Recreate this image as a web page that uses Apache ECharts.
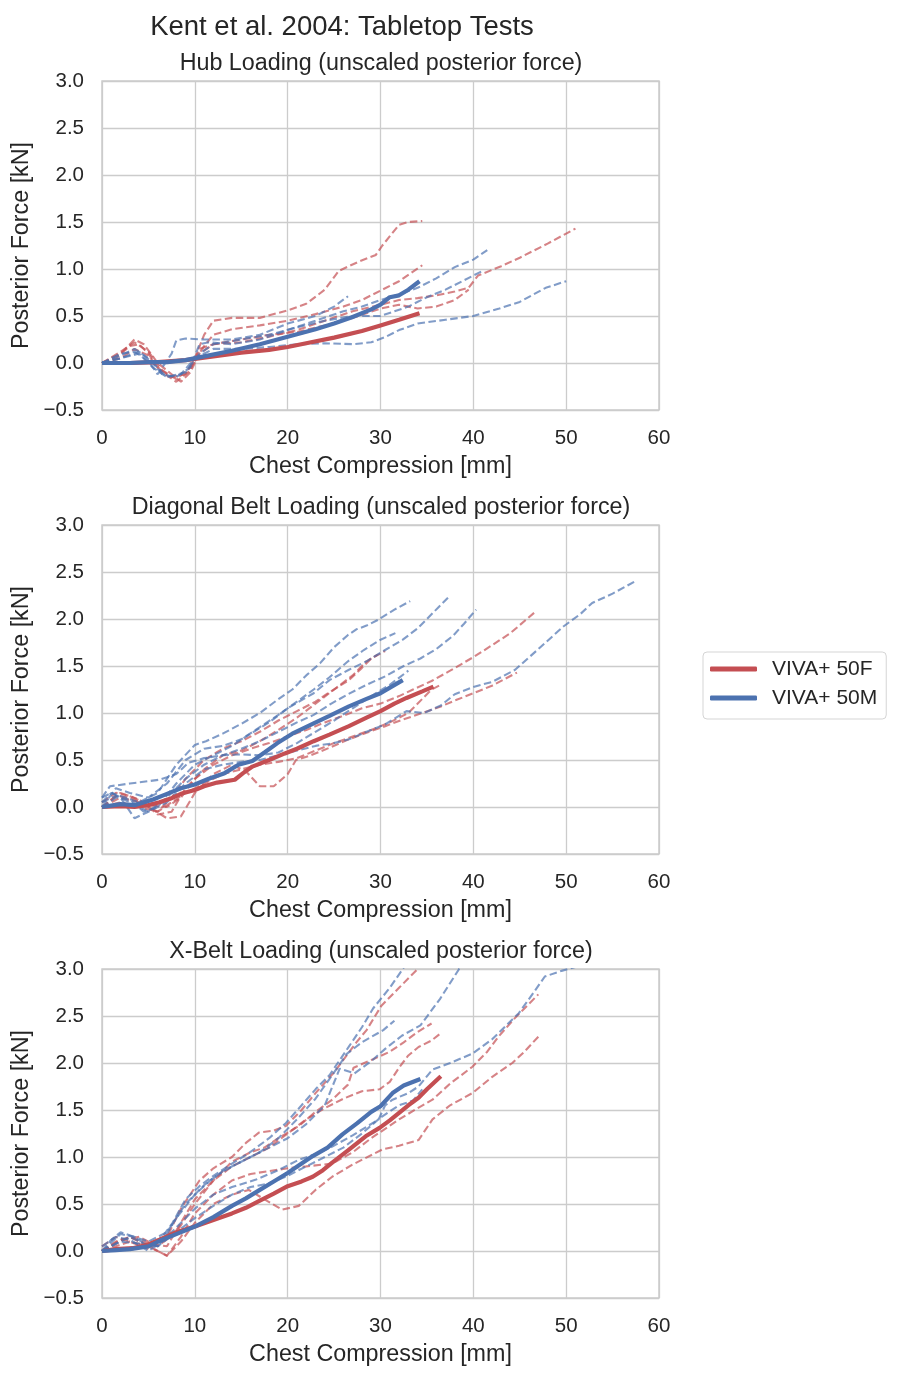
<!DOCTYPE html>
<html><head><meta charset="utf-8">
<script src="https://cdn.jsdelivr.net/npm/echarts@6/dist/echarts.min.js"></script>
<style>html,body{margin:0;padding:0;background:#fff}#c{width:901px;height:1378px}</style>
</head><body><div id="c"></div><script>
// ---------- data ----------
const panelTitles = ['Hub Loading (unscaled posterior force)', 'Diagonal Belt Loading (unscaled posterior force)', 'X-Belt Loading (unscaled posterior force)'];
const mainTitle = 'Kent et al. 2004: Tabletop Tests';
const xTicks = [0, 10, 20, 30, 40, 50, 60];
const yTicks = [-0.5, 0.0, 0.5, 1.0, 1.5, 2.0, 2.5, 3.0];

// Hub loading
const hubF = [[0,0],[3,0],[6,0.01],[9,0.03],[12,0.07],[15,0.11],[18,0.14],[20,0.17],[22,0.21],[25,0.27],[28,0.34],[30,0.4],[32,0.46],[34.2,0.53]];
const hubM = [[0,0],[3,0],[5,0.01],[7,0.01],[9,0.03],[11,0.07],[14,0.13],[17,0.2],[20,0.28],[23,0.36],[25,0.42],[27,0.49],[29,0.57],[30,0.62],[31,0.7],[32,0.72],[33,0.78],[34.2,0.87]];
const hubTestsF = [
  [[0,0],[1.5,0.05],[3,0.18],[4,0.2],[5,0.1],[6,-0.05],[7.5,-0.15],[9,-0.12],[10,0.05],[11,0.3],[12,0.45],[14,0.48],[17,0.48],[20,0.56],[22,0.63],[24,0.78],[25.5,0.98],[27.7,1.08],[29.5,1.15],[30.2,1.25],[32,1.47],[33,1.5],[34.5,1.51]],
  [[0,0],[2,0.1],[3.5,0.25],[4.5,0.2],[6,0],[7.5,-0.12],[8.5,-0.2],[9.5,-0.1],[10.5,0.1],[12,0.2],[15,0.22],[18,0.28],[21,0.35],[24,0.45],[27,0.55],[30,0.62],[32,0.67],[34,0.69],[36,0.72],[38,0.76],[39.5,0.8],[40.5,0.93],[43,1.03],[45,1.12],[48,1.27],[51,1.43]],
  [[0,0],[2,0.12],[3.5,0.22],[5,0.12],[6.5,-0.08],[8,-0.17],[9.5,-0.05],[11,0.18],[12,0.3],[14,0.36],[17,0.4],[20,0.45],[23,0.52],[26,0.6],[28,0.67],[30,0.77],[32,0.87],[34.5,1.04]],
  [[0,0],[2,0.05],[3.5,0.15],[5,0.08],[6.5,-0.1],[8,-0.2],[9.5,-0.08],[10.5,0.15],[12,0.2],[15,0.25],[18,0.3],[21,0.33],[24,0.4],[27,0.48],[30,0.58],[32,0.62],[34,0.58],[36,0.6],[38,0.67],[39.5,0.78]]
];
const hubTestsM = [
  [[0,0],[2,0.08],[3.5,0.15],[5,0.05],[6.5,-0.12],[8,-0.15],[9.5,-0.05],[10.5,0.2],[11.5,0.22],[14,0.2],[17,0.25],[20,0.35],[23,0.45],[26,0.55],[28,0.6],[30,0.67],[32,0.73],[34,0.8],[36,0.9],[38,1.02],[40,1.1],[41.5,1.2]],
  [[0,0],[2,0.05],[4,0.12],[5.5,0],[7,-0.15],[8.5,-0.12],[10,0.05],[12,0.15],[15,0.15],[18,0.17],[21,0.2],[24,0.21],[27,0.2],[29,0.22],[30.6,0.28],[32,0.35],[34,0.42],[37,0.46],[40,0.5],[42.8,0.58],[45,0.65],[47.8,0.8],[50,0.87]],
  [[0,0],[2,0.1],[3.5,0.12],[5,0.02],[6,-0.12],[7.5,0.1],[8,0.24],[9,0.26],[11,0.25],[14,0.25],[17,0.3],[20,0.42],[23,0.5],[25,0.6],[26.5,0.71]],
  [[0,0],[2,0.05],[4,0.1],[5.5,-0.05],[7,-0.15],[9,-0.1],[10.5,0.1],[12,0.2],[15,0.25],[18,0.3],[21,0.38],[24,0.45],[27,0.5],[30,0.5],[33,0.6],[35,0.7],[37,0.78],[39,0.88],[41,0.98]]
];

// Diagonal belt loading
const diagF = [[0,0],[2,0.01],[3.5,0.0],[5,0.02],[6.2,0.05],[7.4,0.09],[8.5,0.14],[10,0.18],[11,0.22],[12.4,0.26],[14.3,0.29],[15.2,0.36],[16.2,0.43],[18,0.5],[19.7,0.57],[21,0.62],[22.8,0.7],[24.5,0.77],[26.6,0.86],[28.5,0.95],[30,1.02],[31.5,1.1],[32.8,1.16],[34.5,1.23],[35.7,1.28]];
const diagM = [[0,0],[2,0.03],[3.5,0.02],[5.5,0.08],[7,0.14],[8.5,0.2],[10,0.24],[11.5,0.3],[13.2,0.36],[14.7,0.45],[16.2,0.49],[17.5,0.58],[18.9,0.68],[20.5,0.78],[22.8,0.89],[24.5,0.97],[26.6,1.07],[28.5,1.15],[30,1.21],[31.2,1.28],[32.4,1.35]];
const diagTestsF = [
  [[0,0.05],[1.5,0.15],[3,0.12],[5,0.02],[7,0.0],[8.5,0.1],[10,0.3],[12,0.45],[14,0.55],[16,0.62],[18,0.68],[20,0.75],[22,0.82],[24,0.9],[26,0.97],[28,1.05],[30,1.1],[32,1.18],[33.5,1.25],[35.5,1.34],[37.5,1.45],[40.1,1.6],[42,1.72],[44,1.85],[46.6,2.07]],
  [[0,0],[1.5,0.12],[3,0.1],[5,0.0],[7,-0.12],[8.5,-0.1],[10,0.15],[12,0.35],[14,0.45],[15.5,0.38],[17,0.22],[18.5,0.22],[20,0.35],[20.9,0.5],[22.5,0.55],[24.5,0.63],[26.6,0.72],[28.5,0.79],[30.5,0.86],[32.4,0.93],[34.5,1.0],[36.5,1.07],[38.2,1.14],[40,1.21],[42,1.29],[44.7,1.43]],
  [[0,0],[2,0.1],[4,0.05],[6,-0.05],[7.5,0.1],[9,0.3],[11,0.5],[13,0.62],[15,0.7],[17,0.8],[19,0.92],[21,1.02],[23,1.12],[24.5,1.22],[26.6,1.35],[28,1.48],[29,1.58],[30.5,1.66]],
  [[0,0],[2,0.15],[4,0.08],[6,-0.08],[7.5,-0.05],[9,0.2],[11,0.4],[13,0.55],[15,0.6],[17,0.7],[19,0.82],[21,0.95],[23,1.1],[25,1.25],[27,1.4],[28.5,1.55],[29.7,1.62]],
  [[0,0],[2,0.05],[4,0.0],[6,-0.05],[7.5,0.05],[9,0.15],[11,0.25],[13,0.35],[15,0.4],[17,0.45],[19,0.48],[21,0.52],[23,0.6],[25,0.68],[27,0.75],[29,0.82],[31,0.9],[33,1.0],[34.5,1.15],[35.5,1.25],[36.5,1.3]]
];
const diagTestsM = [
  [[0,0.1],[1,0.15],[2,0.1],[3.5,-0.12],[5,-0.05],[7,0.05],[9,0.25],[11,0.4],[13,0.45],[15,0.48],[17,0.5],[19,0.55],[21,0.6],[23,0.65],[25,0.68],[26.6,0.72],[28.5,0.8],[30.5,0.88],[32.8,1.02],[34.7,1.0],[36.5,1.08],[38,1.2],[40.1,1.28],[42,1.33],[44.5,1.46],[47,1.68],[49.7,1.92],[51.5,2.05],[52.8,2.17],[55,2.27],[57.6,2.41]],
  [[0,0.05],[1.5,0.12],[3,0.05],[5,-0.05],[7,0.1],[9,0.3],[11,0.45],[13,0.55],[15,0.62],[17,0.7],[19,0.8],[21,0.9],[22.8,0.98],[24.7,1.1],[26.5,1.2],[28.5,1.3],[30.5,1.39],[32.5,1.5],[34.3,1.58],[36,1.68],[37.8,1.82],[39,1.95],[40.3,2.1]],
  [[0,0],[1.5,0.1],[3,0.08],[4.5,-0.05],[6,0],[8,0.25],[10,0.45],[12,0.55],[14,0.65],[16,0.78],[18,0.9],[20,1.05],[22.8,1.21],[24.5,1.35],[26.6,1.46],[28.5,1.55],[30.5,1.67],[32.4,1.78],[34,1.9],[35.8,2.08],[37.4,2.24]],
  [[0,0.05],[1,0.15],[2.5,0.1],[4,0.05],[6,0.15],[8,0.45],[10,0.66],[11.2,0.7],[13,0.78],[15.1,0.89],[17,1.0],[18.9,1.14],[20.5,1.25],[22,1.4],[23.5,1.53],[25,1.7],[26.5,1.83],[27.4,1.89],[28.5,1.93],[29.7,1.99],[31.5,2.1],[33.2,2.19]],
  [[0,0],[1.5,0.2],[3,0.15],[5,0.1],[7,0.25],[9,0.5],[11,0.62],[13,0.65],[15,0.72],[17,0.85],[19,0.98],[21,1.12],[22.8,1.25],[24.5,1.38],[26.5,1.55],[28.2,1.67],[30,1.78],[31.6,1.85]],
  [[0,0.1],[0.85,0.22],[3,0.25],[6.2,0.29],[8,0.35],[9.3,0.47],[11,0.52],[13,0.55],[15,0.56],[17,0.55],[19,0.58],[21,0.68],[23,0.8],[25,0.92],[27,1.05],[29,1.18],[31,1.3],[33,1.45]]
];

// X-belt loading
const xbeltF = [[0,0],[1.5,0.02],[3.3,0.03],[5,0.07],[6.2,0.12],[8,0.2],[10,0.26],[12,0.33],[14,0.4],[15.5,0.46],[16.9,0.53],[18.5,0.61],[20,0.69],[21.5,0.74],[22.7,0.79],[23.8,0.86],[24.8,0.94],[26.5,1.07],[28.4,1.22],[29.9,1.31],[31,1.39],[32,1.47],[33,1.55],[34.1,1.63],[35,1.72],[36.5,1.86]];
const xbeltM = [[0,0],[1.5,0.01],[3,0.02],[5,0.05],[6.5,0.12],[8,0.18],[10,0.26],[12,0.36],[14,0.48],[15.5,0.56],[17,0.65],[18.5,0.74],[20,0.83],[21.5,0.93],[22.7,1.01],[24.3,1.1],[25.9,1.24],[27.5,1.36],[29,1.48],[30,1.54],[31.3,1.68],[32.5,1.76],[34.3,1.83]];
const xbeltTestsF = [
  [[0,0.05],[1.5,0.15],[3,0.1],[5,0.02],[7,0.15],[8.5,0.45],[10.5,0.75],[12,0.88],[14,1.0],[15.5,1.15],[16.9,1.26],[18.5,1.28],[19.8,1.33],[21.5,1.5],[23,1.68],[25,1.9],[27.4,2.22],[28.5,2.35],[30.1,2.61],[32,2.8],[33.9,2.99],[34.5,3.1]],
  [[0,0],[1.5,0.1],[3,0.15],[5,0.08],[7,0.05],[8.5,0.3],[10,0.55],[12,0.75],[14,0.9],[16,1.0],[18,1.1],[20,1.25],[22,1.4],[24,1.52],[26,1.62],[28,1.7],[29.9,1.72],[31,1.8],[32,1.95],[33,2.08],[34.1,2.17],[35.5,2.24],[36.4,2.31]],
  [[0,0],[1.5,0.05],[3,0.1],[5,0.05],[7,-0.05],[8.5,0.15],[10,0.4],[12,0.6],[14,0.75],[16,0.82],[18,0.85],[20,0.88],[22,0.9],[24.8,0.93],[27,1.05],[29,1.2],[30.5,1.3],[32,1.4],[34,1.52],[35.6,1.61],[37.5,1.78],[39.9,1.96],[41.5,2.12],[42.7,2.28],[44.5,2.48],[47,2.73]],
  [[0,0],[1.5,0.08],[3,0.15],[5,0.05],[7,-0.05],[8.5,0.1],[10,0.3],[12,0.5],[14,0.6],[15.8,0.65],[17.5,0.55],[19.4,0.44],[21.2,0.48],[23,0.65],[24.8,0.79],[27,0.92],[30.2,1.08],[32,1.12],[34.1,1.18],[35.6,1.4],[37.5,1.55],[39.9,1.68],[42,1.85],[44.2,2.0],[45.5,2.12],[47,2.28]],
  [[0,0],[2,0.12],[4,0.15],[6,0.05],[8,0.2],[10,0.5],[12,0.75],[14,0.95],[16,1.05],[17.5,1.1],[19,1.2],[21.2,1.33],[23,1.48],[24.8,1.61],[26.5,1.77],[27.1,1.95],[29.2,2.04],[31,2.12],[32.5,2.22],[34,2.33],[35.5,2.42]]
];
const xbeltTestsM = [
  [[0,0],[1,0.12],[2,0.2],[3.5,0.15],[5,0.05],[6.5,0.15],[7.6,0.3],[9,0.55],[10.5,0.69],[12,0.8],[14,0.93],[15.8,1.04],[18,1.2],[19.8,1.36],[21.5,1.55],[23,1.72],[24.5,1.87],[26.7,2.19],[28,2.38],[29.2,2.58],[31,2.8],[32.4,3.0],[33,3.1]],
  [[0,0.05],[1.5,0.15],[3,0.12],[5,0.0],[6.5,0.1],[8,0.35],[10,0.6],[12,0.78],[14,0.9],[16,1.0],[18,1.1],[20,1.2],[22,1.35],[24,1.55],[25.6,1.94],[27.2,1.89],[29,2.02],[30.5,2.15],[32.3,2.29],[34.3,2.4],[36.4,2.68],[38.4,2.99],[39,3.1]],
  [[0,0],[1.5,0.08],[3,0.15],[4.5,0.08],[6,0.05],[8,0.25],[10,0.45],[12,0.6],[14,0.68],[16.6,0.76],[19,0.86],[21.2,0.97],[23,1.03],[24.8,1.11],[27,1.23],[29.8,1.4],[30.5,1.55],[31.3,1.61],[33,1.68],[34.1,1.75],[35.6,1.93],[37.5,2.0],[39.9,2.1],[42,2.25],[44.9,2.53],[46.5,2.75],[47.7,2.92],[49.5,2.98],[51.3,3.03]],
  [[0,0],[2,0.18],[3.5,0.15],[5,0.1],[7,0.2],[9,0.5],[11,0.7],[13,0.85],[15,0.95],[17,1.05],[19,1.2],[21,1.4],[23,1.62],[25,1.9],[26.4,2.1],[28,2.22],[30.3,2.35],[31.5,2.45]],
  [[0,0],[2,0.1],[4,0.08],[6,0.05],[8,0.2],[10,0.35],[12,0.48],[14,0.6],[16,0.68],[18,0.72],[20,0.8],[22,0.9],[24,1.0],[26,1.1],[28,1.25],[30,1.42],[32,1.55],[33.5,1.6],[34.5,1.72]]
];

const legendNames = ['VIVA+ 50F', 'VIVA+ 50M'];
// ---------- chart ----------
const RED = '#C44E52', BLUE = '#4C72B0', TXT = '#262626', GRIDC = '#cccccc';
const FONT = '"Liberation Sans", Arial, sans-serif';
const TICK = 20.5, LAB = 23.3;
const panels = [
  {F: hubF, M: hubM, tF: hubTestsF, tM: hubTestsM},
  {F: diagF, M: diagM, tF: diagTestsF, tM: diagTestsM},
  {F: xbeltF, M: xbeltM, tF: xbeltTestsF, tM: xbeltTestsM}
];
const tops = [81, 525, 969];
const grids = [], xAxes = [], yAxes = [], series = [], graphics = [];
const fmtY = v => (v < 0 ? '\u2212' : '') + Math.abs(v).toFixed(1);
panels.forEach((p, i) => {
  grids.push({left: 102, top: tops[i], width: 557, height: 329, show: true, borderColor: GRIDC, borderWidth: 1.5, backgroundColor: 'transparent'});
  xAxes.push({type: 'value', gridIndex: i, min: xTicks[0], max: xTicks[xTicks.length-1], interval: 10,
    name: 'Chest Compression [mm]', nameLocation: 'middle', nameGap: 45,
    nameTextStyle: {fontSize: LAB, color: TXT, fontFamily: FONT},
    axisLine: {show: false}, axisTick: {show: false},
    axisLabel: {fontSize: TICK, color: TXT, fontFamily: FONT, margin: 18},
    splitLine: {show: true, lineStyle: {color: GRIDC, width: 1.3}}});
  yAxes.push({type: 'value', gridIndex: i, min: yTicks[0], max: yTicks[yTicks.length-1], interval: 0.5,
    name: 'Posterior Force [kN]', nameLocation: 'middle', nameGap: 67,
    nameTextStyle: {fontSize: LAB, color: TXT, fontFamily: FONT},
    axisLine: {show: false}, axisTick: {show: false},
    axisLabel: {fontSize: TICK, color: TXT, fontFamily: FONT, margin: 18, formatter: fmtY},
    splitLine: {show: true, lineStyle: {color: GRIDC, width: 1.3}}});
  const dash = (d, c) => ({type: 'line', name: 'test', xAxisIndex: i, yAxisIndex: i, data: d, symbol: 'none', silent: true,
    lineStyle: {color: c, width: 2.1, type: [7.5, 3.5], opacity: 0.7}, itemStyle: {color: c}, z: 2, animation: false});
  p.tF.forEach(d => series.push(dash(d, RED)));
  p.tM.forEach(d => series.push(dash(d, BLUE)));
  series.push({type: 'line', name: legendNames[0], xAxisIndex: i, yAxisIndex: i, data: p.F, symbol: 'none',
    lineStyle: {color: RED, width: 4.2}, itemStyle: {color: RED}, z: 3, animation: false});
  series.push({type: 'line', name: legendNames[1], xAxisIndex: i, yAxisIndex: i, data: p.M, symbol: 'none',
    lineStyle: {color: BLUE, width: 4.2}, itemStyle: {color: BLUE}, z: 3, animation: false});
  graphics.push({type: 'text', x: 381, y: tops[i] - 17, style: {text: panelTitles[i], font: LAB + 'px ' + FONT, fill: TXT, textAlign: 'center', textVerticalAlign: 'middle'}});
});
graphics.push({type: 'text', x: 342, y: 27, style: {text: mainTitle, font: '27.5px ' + FONT, fill: TXT, textAlign: 'center', textVerticalAlign: 'middle'}});

const chart = echarts.init(document.getElementById('c'), null, {renderer: 'canvas'});
chart.setOption({
  backgroundColor: '#ffffff',
  animation: false,
  grid: grids, xAxis: xAxes, yAxis: yAxes, series: series, graphic: graphics,
  legend: {data: legendNames, orient: 'vertical', left: 703, top: 652, itemWidth: 47, itemHeight: 5, itemGap: 7,
    icon: 'roundRect', borderColor: '#d5d5d5', borderWidth: 1, borderRadius: 4, padding: [6, 9, 10, 7],
    textStyle: {fontSize: 21, lineHeight: 22, color: TXT, fontFamily: FONT, padding: [0, 0, 0, 10]}, selectedMode: false}
});
</script></body></html>
